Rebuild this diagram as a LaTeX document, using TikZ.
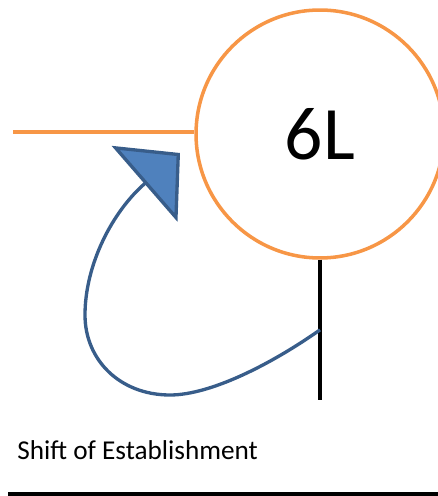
\documentclass[tikz,border=0pt]{standalone}
\usepackage{fontspec}
\setmainfont{Carlito}
\usetikzlibrary{positioning, arrows.meta, calc}
\definecolor{ringorange}{RGB}{247,150,70}
\definecolor{loopblue}{RGB}{56,93,138}
\definecolor{tipblue}{RGB}{79,129,189}

\begin{document}
\begin{tikzpicture}[x=0.02cm, y=-0.02cm, >=Stealth]
        \useasboundingbox (0,0) rectangle (438,496);

        % Ring 6L
        \node[circle, draw=ringorange, line width=2pt, minimum size=4.96cm, inner sep=0pt,
              font=\fontsize{43}{43}\selectfont] (ring) at (320,134) {6L};

        % Orange line into the ring
        \coordinate (leftEnd) at (13,132);
        \draw[ringorange, line width=2.4pt] (leftEnd) -- (leftEnd -| ring.west);

        % Black stem below the ring
        \coordinate (stemEnd) at (320,400);
        \draw[line width=2.6pt] (ring.south) -- (stemEnd);

        % Loop back to the ring
        \coordinate (loopStart) at ($(ring.south)!0.5!(stemEnd)$);
        \coordinate (loopTip) at (180,153);
        \draw[loopblue, line width=1.9pt, -{Triangle[length=0.94cm, width=2cm, fill=tipblue]}]
            (loopStart) .. controls (270,365) and (210,395) .. (170,395)
            .. controls (120,395) and (85,360) .. (85,315)
            .. controls (85,265) and (112,212) .. (loopTip);

        % Caption
        \node[anchor=base west, inner sep=0pt, font=\fontsize{15.5}{15.5}\selectfont] (caption) at (17,459) {Shift of Establishment};

        % Bottom rule
        \coordinate (ruleLeft) at (8,494);
        \coordinate (ruleRight) at (438,494);
        \draw[line width=1.9pt] (ruleLeft) -- (ruleRight);
    \end{tikzpicture}
\end{document}
